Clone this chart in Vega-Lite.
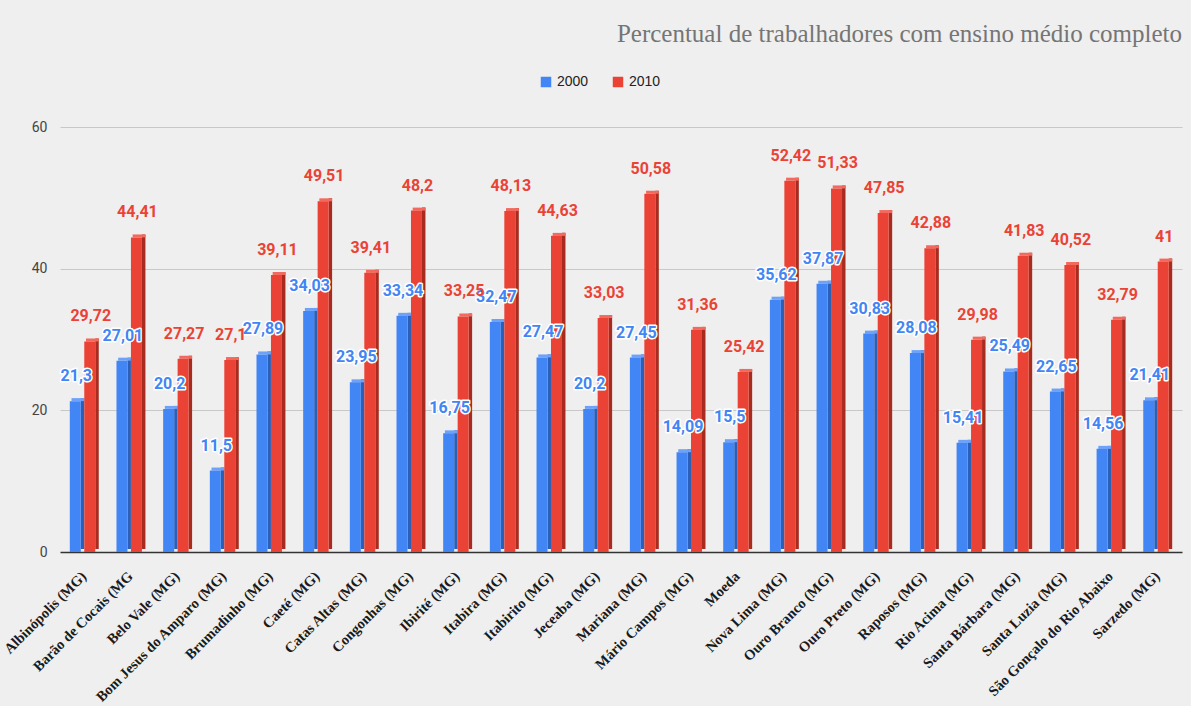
{
  "$schema": "https://vega.github.io/schema/vega-lite/v6.json",
  "width": 1122,
  "height": 425,
  "autosize": {"type": "none"},
  "padding": {"left": 60, "top": 127, "right": 9, "bottom": 154},
  "background": "#efefef",
  "config": {
    "view": {"stroke": null},
    "locale": {
      "number": {"decimal": ",", "thousands": ".", "grouping": [3], "currency": ["R$", ""]}
    }
  },
  "title": {
    "text": "Percentual de trabalhadores com ensino médio completo",
    "anchor": "end",
    "frame": "group",
    "font": "Liberation Serif",
    "fontSize": 25,
    "fontWeight": "normal",
    "color": "#757575",
    "offset": 28
  },
  "data": {
    "values": [
      {"municipio": "Albinópolis (MG)", "ano": "2000", "valor": 21.3},
      {"municipio": "Albinópolis (MG)", "ano": "2010", "valor": 29.72},
      {"municipio": "Barão de Cocais (MG", "ano": "2000", "valor": 27.01},
      {"municipio": "Barão de Cocais (MG", "ano": "2010", "valor": 44.41},
      {"municipio": "Belo Vale (MG)", "ano": "2000", "valor": 20.2},
      {"municipio": "Belo Vale (MG)", "ano": "2010", "valor": 27.27},
      {"municipio": "Bom Jesus do Amparo (MG)", "ano": "2000", "valor": 11.5},
      {"municipio": "Bom Jesus do Amparo (MG)", "ano": "2010", "valor": 27.1},
      {"municipio": "Brumadinho (MG)", "ano": "2000", "valor": 27.89},
      {"municipio": "Brumadinho (MG)", "ano": "2010", "valor": 39.11},
      {"municipio": "Caeté (MG)", "ano": "2000", "valor": 34.03},
      {"municipio": "Caeté (MG)", "ano": "2010", "valor": 49.51},
      {"municipio": "Catas Altas (MG)", "ano": "2000", "valor": 23.95},
      {"municipio": "Catas Altas (MG)", "ano": "2010", "valor": 39.41},
      {"municipio": "Congonhas (MG)", "ano": "2000", "valor": 33.34},
      {"municipio": "Congonhas (MG)", "ano": "2010", "valor": 48.2},
      {"municipio": "Ibirité (MG)", "ano": "2000", "valor": 16.75},
      {"municipio": "Ibirité (MG)", "ano": "2010", "valor": 33.25},
      {"municipio": "Itabira (MG)", "ano": "2000", "valor": 32.47},
      {"municipio": "Itabira (MG)", "ano": "2010", "valor": 48.13},
      {"municipio": "Itabirito (MG)", "ano": "2000", "valor": 27.47},
      {"municipio": "Itabirito (MG)", "ano": "2010", "valor": 44.63},
      {"municipio": "Jeceaba (MG)", "ano": "2000", "valor": 20.2},
      {"municipio": "Jeceaba (MG)", "ano": "2010", "valor": 33.03},
      {"municipio": "Mariana (MG)", "ano": "2000", "valor": 27.45},
      {"municipio": "Mariana (MG)", "ano": "2010", "valor": 50.58},
      {"municipio": "Mário Campos (MG)", "ano": "2000", "valor": 14.09},
      {"municipio": "Mário Campos (MG)", "ano": "2010", "valor": 31.36},
      {"municipio": "Moeda", "ano": "2000", "valor": 15.5},
      {"municipio": "Moeda", "ano": "2010", "valor": 25.42},
      {"municipio": "Nova Lima (MG)", "ano": "2000", "valor": 35.62},
      {"municipio": "Nova Lima (MG)", "ano": "2010", "valor": 52.42},
      {"municipio": "Ouro Branco (MG)", "ano": "2000", "valor": 37.87},
      {"municipio": "Ouro Branco (MG)", "ano": "2010", "valor": 51.33},
      {"municipio": "Ouro Preto (MG)", "ano": "2000", "valor": 30.83},
      {"municipio": "Ouro Preto (MG)", "ano": "2010", "valor": 47.85},
      {"municipio": "Raposos (MG)", "ano": "2000", "valor": 28.08},
      {"municipio": "Raposos (MG)", "ano": "2010", "valor": 42.88},
      {"municipio": "Rio Acima (MG)", "ano": "2000", "valor": 15.41},
      {"municipio": "Rio Acima (MG)", "ano": "2010", "valor": 29.98},
      {"municipio": "Santa Bárbara (MG)", "ano": "2000", "valor": 25.49},
      {"municipio": "Santa Bárbara (MG)", "ano": "2010", "valor": 41.83},
      {"municipio": "Santa Luzia (MG)", "ano": "2000", "valor": 22.65},
      {"municipio": "Santa Luzia (MG)", "ano": "2010", "valor": 40.52},
      {"municipio": "São Gonçalo do Rio Abaixo", "ano": "2000", "valor": 14.56},
      {"municipio": "São Gonçalo do Rio Abaixo", "ano": "2010", "valor": 32.79},
      {"municipio": "Sarzedo (MG)", "ano": "2000", "valor": 21.41},
      {"municipio": "Sarzedo (MG)", "ano": "2010", "valor": 41}
    ]
  },
  "encoding": {
    "x": {
      "field": "municipio",
      "type": "nominal",
      "sort": null,
      "scale": {"paddingInner": 0.38, "paddingOuter": 0.21},
      "axis": {
        "title": null,
        "domain": false,
        "ticks": false,
        "labelAngle": -45,
        "labelAlign": "right",
        "labelBaseline": "middle",
        "labelPadding": 22,
        "labelFont": "Liberation Serif",
        "labelFontWeight": "bold",
        "labelFontSize": 14.5,
        "labelColor": "#1a1a1a",
        "labelLimit": 400
      }
    }
  },
  "layer": [
    {
      "mark": {"type": "bar", "yOffset": -3},
      "encoding": {
        "xOffset": {
          "field": "ano",
          "type": "nominal",
          "scale": {"paddingInner": 0.76, "paddingOuter": 0.38, "align": 1}
        },
        "y": {
          "field": "valor",
          "type": "quantitative",
          "scale": {"domain": [0, 60]},
          "axis": {
            "title": null,
            "values": [0, 20, 40, 60],
            "domain": false,
            "ticks": false,
            "labelFont": "Roboto",
            "labelFontSize": 14,
            "labelColor": "#444444",
            "labelPadding": 13,
            "gridColor": {"condition": {"test": "datum.value === 0", "value": "#333333"}, "value": "#c8c8c8"},
            "gridWidth": {"condition": {"test": "datum.value === 0", "value": 1.5}, "value": 1}
          }
        },
        "color": {
          "field": "ano",
          "type": "nominal",
          "scale": {"domain": ["2000", "2010"], "range": ["#2c5fb8", "#a82b20"]},
          "legend": null
        }
      }
    },
    {
      "mark": {"type": "bar", "yOffset": -3},
      "encoding": {
        "xOffset": {
          "field": "ano",
          "type": "nominal",
          "scale": {"paddingInner": 0.1175, "paddingOuter": 0.05875, "align": 1}
        },
        "y": {"field": "valor", "type": "quantitative"},
        "y2": {"field": "valor"},
        "color": {
          "field": "ano",
          "type": "nominal",
          "scale": {"domain": ["2000", "2010"], "range": ["#6ea2f8", "#f26a5e"]},
          "legend": null
        }
      }
    },
    {
      "mark": {"type": "bar"},
      "encoding": {
        "xOffset": {
          "field": "ano",
          "type": "nominal",
          "scale": {"paddingInner": 0.24, "paddingOuter": 0.12, "align": 0}
        },
        "y": {"field": "valor", "type": "quantitative"},
        "color": {
          "field": "ano",
          "type": "nominal",
          "scale": {"domain": ["2000", "2010"], "range": ["#4285f4", "#ea4335"]},
          "legend": {
            "title": null,
            "orient": "none",
            "legendX": 479,
            "legendY": -52,
            "direction": "horizontal",
            "symbolType": "square",
            "symbolSize": 110,
            "symbolStrokeWidth": 0,
            "labelFont": "Liberation Sans",
            "labelFontSize": 14,
            "labelColor": "#222222",
            "columnPadding": 22
          }
        }
      }
    },
    {
      "transform": [{"filter": "datum.ano === '2000'"}],
      "mark": {
        "type": "text",
        "dx": -8,
        "dy": -25,
        "baseline": "middle",
        "font": "Roboto",
        "fontWeight": "bold",
        "fontSize": 16,
        "stroke": "#ffffff",
        "strokeWidth": 3,
        "strokeJoin": "round",
        "fill": "#ffffff"
      },
      "encoding": {
        "y": {"field": "valor", "type": "quantitative"},
        "text": {"field": "valor", "type": "quantitative", "format": "~g"}
      }
    },
    {
      "transform": [{"filter": "datum.ano === '2000'"}],
      "mark": {
        "type": "text",
        "dx": -8,
        "dy": -25,
        "baseline": "middle",
        "font": "Roboto",
        "fontWeight": "bold",
        "fontSize": 16,
        "fill": "#4285f4"
      },
      "encoding": {
        "y": {"field": "valor", "type": "quantitative"},
        "text": {"field": "valor", "type": "quantitative", "format": "~g"}
      }
    },
    {
      "transform": [{"filter": "datum.ano === '2010'"}],
      "mark": {
        "type": "text",
        "dx": 6.5,
        "dy": -25,
        "baseline": "middle",
        "font": "Roboto",
        "fontWeight": "bold",
        "fontSize": 16,
        "fill": "#ea4335"
      },
      "encoding": {
        "y": {"field": "valor", "type": "quantitative"},
        "text": {"field": "valor", "type": "quantitative", "format": "~g"}
      }
    }
  ],
  "resolve": {"scale": {"color": "independent", "xOffset": "independent"}}
}
